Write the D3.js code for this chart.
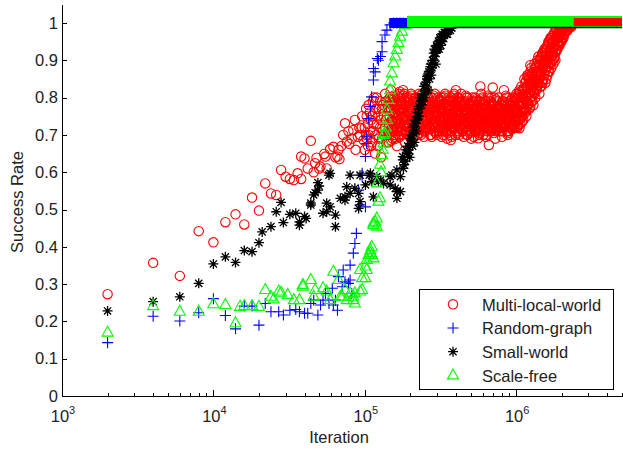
<!DOCTYPE html>
<html>
<head>
<meta charset="utf-8">
<script src="https://d3js.org/d3.v7.min.js"></script>
<style>
  body { margin: 0; background: #fff; }
  svg { display: block; font-family: "Liberation Sans", Arial, sans-serif; }
</style>
</head>
<body>
<div id="chart"></div>
<script>
// iterations are in thousands, success rate in 0..1
const multiLocalWorld = [
  [2,.273],[4,.357],[6,.322],[8,.442],[10,.412],[12,.466],[14,.487],[16,.46],[18,.532],[20,.497],
  [22,.57],[24,.543],[26,.539],[28,.606],[30,.588],[32,.582],[34,.579],[36,.597],[38,.582],[38,.642],
  [40,.637],[42,.61],[44,.684],[46,.6],[47,.624],[48,.639],[50,.61],[51,.615],[54,.649],[55,.642],
  [56,.61],[59,.662],[62,.668],[64,.64],[66,.642],[67,.66],[68,.635],[70,.67],[72,.7],[74,.731],
  [76,.682],[78,.71],[79,.676],[82,.69],[84,.713],[86,.74],[87,.66],[90,.695],[92,.72],[93,.7],
  [95,.718],[96,.75],[98,.686],
  [170,.816],[230,.722],[270,.7],[370,.686],[400,.82],[470,.7],[560,.691],[580,.83],[660,.673],
  [700,.827],[830,.82],[880,.7],[1050,.718],[1200,.86],[1240,.887]
];

// dense part of the multi-local-world run: several samples per pixel column
const multiLocalCloud = [
  [100,.72,.66],[103,.75,.69],[106,.70,.78],[110,.74,.67],[113,.71,.79],[117,.76,.65],
  [120,.73,.80],[124,.69,.77],[128,.74,.64],[132,.78,.71],[136,.72,.81],[140,.75,.68],
  [144,.73,.79,.68],[149,.77,.71,.82],[153,.74,.80,.69],[158,.76,.70,.79],[163,.72,.78,.67],
  [168,.75,.81,.70],[173,.79,.73,.76],[179,.71,.77,.82],[184,.74,.68,.79],[190,.76,.72,.80],
  [196,.73,.78,.70],[202,.77,.74,.81],[208,.72,.79,.69],[215,.75,.71,.80],[221,.78,.74,.70],
  [228,.73,.77,.81],[235,.76,.70,.79],[243,.74,.78,.72],[250,.71,.77,.80],[258,.75,.73,.82],
  [266,.78,.72,.76],[274,.74,.80,.70],[283,.77,.73,.79],[291,.72,.76,.81],[300,.75,.70,.78],
  [310,.74,.79,.71,.77],[319,.76,.72,.80],[329,.73,.78,.70,.75],[339,.77,.74,.81],
  [350,.72,.76,.69,.79],[361,.75,.78,.73],[372,.71,.77,.80,.74],[383,.76,.73,.79],
  [395,.74,.70,.78,.76],[408,.77,.73,.80],[420,.72,.75,.79,.70],[433,.76,.74,.81],
  [447,.73,.78,.71,.75],[461,.77,.72,.79],[475,.74,.76,.70,.80],[490,.75,.73,.78],
  [505,.72,.77,.74,.69],[520,.76,.79,.73],[537,.74,.71,.77,.80],[553,.75,.78,.72],
  [570,.73,.76,.70,.79],[588,.77,.74,.81],[606,.72,.75,.78,.70],[625,.76,.73,.79],
  [644,.74,.77,.71,.75],[664,.78,.72,.76],[685,.73,.75,.80,.71],[706,.76,.74,.78],
  [728,.72,.77,.74,.69],[750,.75,.79,.73],[773,.74,.71,.77,.76],[797,.78,.73,.75],
  [822,.72,.76,.79,.74],[847,.75,.73,.77],[874,.74,.78,.71,.76],[901,.77,.73,.79],
  [929,.75,.72,.78,.74],[957,.76,.79,.73],[987,.74,.77,.80,.72],
  [1018,.76,.72,.80],[1049,.78,.74,.82],[1082,.75,.79,.83],[1115,.77,.81,.74],
  [1150,.80,.76,.84],[1185,.78,.83,.86],[1222,.81,.77,.85],[1260,.79,.84,.88],
  [1299,.82,.86,.78],[1339,.84,.80,.88],[1380,.83,.87,.90],[1423,.85,.81,.89],
  [1467,.87,.83,.91],[1512,.85,.89,.92],[1559,.88,.84,.92],[1607,.90,.86,.94],
  [1657,.87,.92,.95],[1708,.91,.88,.96],[1761,.93,.89,.95],[1816,.92,.96,.90],
  [1872,.95,.93,.97],[1930,.94,.97,.98],[1989,.96,.98,.95],[2051,.97,.99,.96],
  [2114,.98,.99],[2180,.99,.98],[2247,1,.99],[2317,1,.99],[2388,1]
];

// samples that fall between the columns above
const multiLocalCloudMid = [
  [102,.70,.77],[105,.73,.67],[108,.76,.71],[112,.68,.75],[115,.73,.80],[119,.70,.77],
  [122,.75,.67],[126,.72,.79],[130,.77,.69],[134,.70,.75],[138,.74,.79],[142,.71,.77],
  [146,.75,.70,.80],[151,.72,.78,.74],[156,.77,.71,.80],[160,.73,.76,.69],[166,.78,.74,.71],
  [171,.72,.77,.80],[176,.75,.70,.78],[182,.77,.73,.81],[187,.71,.75,.78],[193,.74,.79,.72],
  [199,.76,.71,.80],[205,.73,.77,.75],[212,.79,.74,.71],[218,.72,.76,.80],[225,.75,.78,.70],
  [232,.77,.72,.79],[239,.73,.76,.81],[247,.76,.71,.78],[254,.74,.79,.72],[262,.77,.73,.80],
  [270,.72,.75,.78],[279,.76,.80,.73],[287,.74,.71,.77],[296,.78,.75,.72],
  [305,.76,.73,.80,.71],[315,.74,.78,.72],[324,.77,.71,.75,.79],[334,.72,.76,.80],
  [345,.75,.73,.78,.71],[356,.77,.74,.80],[367,.73,.78,.70,.76],[378,.75,.72,.79],
  [389,.77,.74,.81,.72],[402,.73,.76,.79],[414,.75,.71,.77,.80],[427,.74,.78,.72],
  [440,.76,.73,.79,.71],[454,.75,.78,.73],[468,.72,.76,.80,.74],[483,.77,.73,.75],
  [498,.74,.79,.71,.76],[513,.73,.77,.80],[529,.76,.72,.75,.78],[545,.74,.79,.71],
  [562,.77,.74,.76,.72],[579,.75,.71,.79],[597,.73,.77,.74,.80],[616,.76,.72,.78],
  [635,.75,.79,.73,.70],[654,.72,.76,.80],[675,.77,.74,.71,.79],[696,.74,.78,.72],
  [717,.76,.73,.80,.75],[739,.73,.77,.71],[762,.75,.80,.74,.72],[785,.77,.72,.76],
  [810,.74,.79,.73,.71],[835,.76,.72,.78],[861,.73,.77,.80,.75],[888,.75,.71,.74],
  [915,.78,.74,.76,.72],[943,.73,.77,.80],[972,.75,.72,.78,.76],[1003,.77,.74,.81],
  [1034,.74,.78,.81],[1066,.76,.80,.73],[1099,.79,.75,.82],[1133,.77,.82,.85],
  [1168,.79,.75,.83],[1204,.81,.85,.78],[1241,.80,.84,.87],[1280,.83,.79,.86],
  [1319,.85,.81,.89],[1360,.82,.86,.88],[1402,.84,.88,.91],[1445,.86,.83,.90],
  [1490,.88,.84,.92],[1536,.86,.90,.93],[1583,.89,.85,.93],[1632,.91,.87,.95],
  [1683,.89,.93,.96],[1735,.92,.90,.95],[1789,.94,.91,.97],[1844,.93,.96,.98],
  [1901,.95,.97,.94],[1960,.97,.95,.99],[2020,.98,.96],[2083,.99,.97],[2147,.98,1],
  [2214,.99,1],[2282,1,.99],[2353,1]
];

// a third pass of samples, offset in both iteration and rate
const multiLocalCloudFill = [
  [145,.705,.765,.795],[150,.735,.685,.785],[155,.755,.715,.805],[159,.725,.775,.695],
  [164,.745,.805,.715],[170,.765,.695,.735],[175,.715,.785,.755],[180,.745,.725,.805],
  [186,.775,.705,.745],[192,.725,.765,.795],[198,.755,.695,.775],[204,.735,.805,.715],
  [210,.765,.745,.695],[216,.715,.785,.755],[223,.745,.725,.795],[230,.775,.705,.735],
  [237,.725,.765,.805],[245,.755,.695,.785],[252,.735,.775,.715],[260,.765,.745,.805],
  [268,.715,.755,.785],[277,.745,.695,.775],[285,.775,.725,.805],[294,.735,.765,.705],
  [303,.755,.785,.725],[313,.715,.745,.795],[322,.765,.735,.695],[332,.745,.785,.715],
  [342,.725,.755,.805],[353,.775,.705,.745],[364,.735,.765,.795],[375,.755,.725,.695],
  [387,.715,.775,.805],[399,.745,.735,.785],[411,.765,.705,.755],[424,.725,.795,.745],
  [437,.755,.715,.775],[451,.735,.785,.695],[465,.765,.745,.805],[479,.715,.755,.735],
  [494,.745,.785,.705],[509,.775,.725,.755],[525,.735,.765,.695],[541,.755,.715,.795],
  [558,.725,.775,.745],[575,.765,.735,.705],[593,.745,.795,.725],[611,.715,.755,.785],
  [630,.775,.735,.695],[649,.735,.765,.805],[670,.755,.715,.745],[690,.725,.785,.765],
  [712,.765,.735,.705],[734,.745,.795,.715],[757,.715,.755,.775],[781,.775,.725,.745],
  [805,.735,.765,.695],[830,.755,.785,.725],[856,.725,.745,.805],[882,.765,.705,.755],
  [910,.745,.785,.735],[938,.715,.765,.795],[967,.755,.725,.775],[998,.735,.795,.745],
  [1029,.765,.725,.805],[1061,.745,.785,.815],[1094,.775,.805,.735],[1128,.765,.825,.795],
  [1163,.805,.765,.845],[1199,.785,.825,.855],[1237,.815,.775,.845],[1275,.835,.805,.865],
  [1315,.815,.855,.875],[1355,.845,.825,.885],[1398,.865,.835,.895],[1441,.855,.885,.905],
  [1486,.875,.845,.915],[1532,.895,.865,.925],[1579,.875,.915,.935],[1629,.905,.885,.945],
  [1680,.925,.895,.955],[1732,.915,.945,.965],[1786,.935,.905,.975],[1841,.955,.925,.985],
  [1898,.945,.975,.995],[1957,.965,.985],[2018,.975,.995],[2081,.985,.995],[2146,.995],
  [2212,.995],[2281,1]
];

const randomGraph = [
  [2,.143],[4,.214],[6,.201],[8,.223],[10,.261],[12,.216],[14,.18],[16,.241],[18,.241],[20,.19],
  [22,.248],[24,.226],[27,.226],[29,.217],[32,.23],[35,.232],[37,.226],[40,.222],[42,.222],[44,.248],
  [46,.257],[49,.217],[51,.244],[53,.257],[55,.275],[58,.248],[61,.289],[62,.244],[64,.257],[66,.23],
  [67,.32],[71,.293],[72,.338],[74,.306],[78,.302],[80,.351],[80,.311],[82,.275],[84,.383],[86,.409],
  [88,.436],[91,.552],[93,.512],[96,.592],[96,.597],[101,.507],[101,.642],[103,.677],[103,.695],
  [106,.744],[109,.776],[111,.802],[114,.847],[114,.878],[117,.869],[121,.905],[123,.9],[127,.91],
  [130,.923],[130,.95],[136,.968],[140,.981],[147,.995],[155,1],[163,1],[171,1],[179,1]
];

const smallWorld = [
  [2,.228],[4,.253],[6,.266],[8,.302],[10,.354],[12,.373],[14,.358],[16,.39],[18,.387],[20,.411],
  [21,.44],[24,.454],[26,.494],[28,.519],[29,.465],[32,.487],[35,.49],[37,.467],[37,.458],[40,.481],
  [41,.476],[44,.512],[44,.517],[46,.539],[47,.545],[49,.552],[49,.572],[50,.563],[53,.49],[56,.517],
  [56,.494],[58,.592],[59,.507],[59,.597],[64,.485],[64,.454],[69,.53],[74,.534],[74,.525],[76,.561],
  [80,.543],[80,.592],[86,.557],[91,.543],[91,.503],[93,.592],[93,.521],[101,.566],[107,.592],
  [109,.597],[111,.575],[114,.534],[120,.588],[123,.575],[127,.579],[133,.57],[147,.566],[147,.588],
  [151,.592],[159,.557],[163,.548],[163,.53],[163,.606],[172,.548],[172,.588],[178,.633],[178,.642],
  [180,.61],[182,.62],[185,.63],[187,.66],[189,.651],[192,.67],[194,.65],[195,.66],[198,.64],
  [200,.677],[200,.69],[203,.69],[205,.7],[207,.67],[208,.72],[210,.704],[212,.73],[213,.68],
  [216,.74],[218,.73],[219,.71],[221,.74],[223,.76],[225,.75],[227,.776],[228,.75],[230,.77],
  [233,.8],[235,.79],[237,.78],[239,.802],[242,.79],[244,.81],[246,.83],[248,.8],[251,.834],
  [253,.82],[255,.84],[257,.85],[258,.856],[260,.86],[262,.82],[265,.87],[268,.85],[271,.883],
  [271,.874],[273,.89],[275,.86],[278,.88],[280,.9],[283,.9],[285,.919],[288,.93],[290,.91],
  [293,.92],[295,.89],[298,.94],[300,.936],[300,.928],[303,.93],[305,.945],[308,.95],[310,.93],
  [313,.96],[315,.954],[318,.94],[321,.963],[324,.97],[326,.95],[329,.96],[331,.968],[335,.975],
  [340,.975],[345,.97],[348,.981],[352,.97],[355,.98],[360,.985],[365,.99],[368,.98],[375,.986]
];

const scaleFree = [
  [2,.17],[4,.241],[6,.226],[8,.226],[10,.246],[12,.244],[14,.195],[15,.239],[16,.241],[18,.241],
  [20,.239],[22,.284],[24,.266],[25,.259],[27,.28],[28,.277],[31,.271],[34,.257],[37,.257],[39,.293],
  [39,.298],[44,.311],[46,.266],[47,.284],[53,.289],[56,.28],[59,.257],[62,.333],[67,.311],[69,.266],
  [71,.266],[74,.284],[76,.257],[80,.275],[84,.266],[84,.257],[86,.248],[86,.275],[93,.28],[93,.338],
  [96,.284],[96,.316],[101,.316],[101,.347],[103,.338],[103,.365],[106,.378],[109,.383],[109,.391],
  [111,.378],[111,.4],[114,.369],[114,.458],[114,.463],[117,.467],[120,.454],[120,.476],[120,.57],
  [123,.521],[126,.53],[126,.62],[128,.6],[130,.646],[131,.66],[133,.677],[133,.7],[136,.704],
  [137,.72],[140,.74],[140,.767],[143,.794],[147,.82],[147,.843],[151,.865],[155,.892],[159,.91],
  [163,.928],[167,.946],[171,.963],[176,.977],[185,.995],[194,1]
];

const seriesNames = ["Multi-local-world", "Random-graph", "Small-world", "Scale-free"];
// once a run converges its markers stack into a solid band up to the last iteration
const plateauFrom = [2400, 145, 380, 190];
const plateauRate = [1, 1, 0.988, 1];
const lastIteration = 5000;

const yTicks = [0, 0.1, 0.2, 0.3, 0.4, 0.5, 0.6, 0.7, 0.8, 0.9, 1];
const yTickLabels = ["0", "0.1", "0.2", "0.3", "0.4", "0.5", "0.6", "0.7", "0.8", "0.9", "1"];
const xDecades = [1e3, 1e4, 1e5, 1e6];
const xExponents = ["3", "4", "5", "6"];

const width = 623, height = 452;
const colors = ["#ff0000", "#0000ff", "#000000", "#00ff00"];
const shapes = ["circle", "plus", "star", "triangle"];
const markerPath = {
  plus: "M-5.5,0H5.5M0,-5.5V5.5",
  star: "M-5,0H5M0,-5V5M-3.6,-3.6L3.6,3.6M-3.6,3.6L3.6,-3.6M-1.2,-1.2h2.4v2.4h-2.4Z",
  triangle: "M0,-6.5L5.5,3.5L-5.5,3.5Z"
};

const svg = d3.select("#chart").append("svg")
  .attr("width", width)
  .attr("height", height);

const x = d3.scaleLog().domain([1e3, 5e6]).range([62, 622]);
const y = d3.scaleLinear().domain([0, 1.05]).range([396, 4.35]);

function drawMarker(sel, shape, color) {
  if (shape === "circle") {
    sel.append("circle").attr("r", 4.7)
      .attr("fill", "none").attr("stroke", color).attr("stroke-width", 1.1);
  } else {
    sel.append("path").attr("d", markerPath[shape])
      .attr("fill", "none").attr("stroke", color)
      .attr("stroke-width", shape === "star" ? 1.3 : 1.1);
  }
}

const toPoints = rows => rows.flatMap(([k, ...rates]) => rates.map(r => [k, r]));
const cloudPoints = toPoints(multiLocalCloud)
  .concat(toPoints(multiLocalCloudMid), toPoints(multiLocalCloudFill));
const seriesData = [multiLocalWorld.concat(cloudPoints), randomGraph, smallWorld, scaleFree];

// scatter markers
seriesData.forEach((data, i) => {
  svg.append("g")
    .selectAll("g")
    .data(data)
    .enter()
    .append("g")
    .attr("transform", d => `translate(${x(d[0] * 1000)},${y(d[1])})`)
    .each(function() { drawMarker(d3.select(this), shapes[i], colors[i]); });
});

// converged bands at the top
const plateauWidth = [8, 10, 1.5, 11];
const plateauShift = [-1, 0, 0, -1.5];
const line = d3.line().x(d => x(d[0] * 1000)).y(d => y(d[1]));
[1, 3, 2, 0].forEach(i => {
  svg.append("path")
    .datum([[plateauFrom[i], plateauRate[i]], [lastIteration, plateauRate[i]]])
    .attr("d", line)
    .attr("transform", `translate(0,${plateauShift[i]})`)
    .attr("fill", "none")
    .attr("stroke", colors[i])
    .attr("stroke-width", plateauWidth[i]);
});

// axes
const yAxis = svg.append("g")
  .attr("transform", "translate(62,0)")
  .call(d3.axisLeft(y).tickValues(yTicks).tickSizeInner(-5).tickSizeOuter(0)
    .tickPadding(4).tickFormat((d, i) => yTickLabels[i]));

const xMinor = x.ticks().filter(t => !xDecades.includes(t));
svg.append("g")
  .attr("transform", "translate(0,396)")
  .call(d3.axisBottom(x).tickValues(xMinor).tickSizeInner(-3.5).tickSizeOuter(0).tickFormat(""))
  .call(g => g.select(".domain").remove());

svg.append("g")
  .attr("transform", "translate(0,396)")
  .call(d3.axisBottom(x).tickValues(xDecades).tickSizeInner(-6).tickSizeOuter(0).tickFormat(""));

svg.selectAll(".domain, .tick line")
  .attr("stroke", "#000")
  .attr("shape-rendering", "crispEdges");

yAxis.attr("font-family", null).attr("font-size", null);
yAxis.selectAll("text")
  .style("font-size", "16.5px")
  .attr("fill", "#222");

const decadeLabels = svg.append("g");
xDecades.forEach((d, i) => {
  const t = decadeLabels.append("text")
    .attr("x", x(d) + 1)
    .attr("y", 422)
    .attr("text-anchor", "middle")
    .attr("fill", "#222")
    .style("font-size", "16.5px");
  t.append("tspan").text("10");
  t.append("tspan").attr("dy", -8).style("font-size", "11px").text(xExponents[i]);
});

svg.append("text")
  .attr("x", 339)
  .attr("y", 443)
  .attr("text-anchor", "middle")
  .attr("fill", "#222")
  .style("font-size", "16.5px")
  .text("Iteration");

svg.append("text")
  .attr("transform", "translate(23,202) rotate(-90)")
  .attr("text-anchor", "middle")
  .attr("fill", "#222")
  .style("font-size", "16.5px")
  .text("Success Rate");

// legend
const legend = svg.append("g");
legend.append("rect")
  .attr("x", 419.5).attr("y", 289.5)
  .attr("width", 194).attr("height", 100)
  .attr("fill", "#fff").attr("stroke", "#000")
  .attr("shape-rendering", "crispEdges");

seriesNames.forEach((name, i) => {
  const cy = 304.3 + i * 23.7;
  const m = legend.append("g").attr("transform", `translate(453,${cy})`);
  drawMarker(m, shapes[i], colors[i]);
  legend.append("text")
    .attr("x", 482)
    .attr("y", cy + 6.4)
    .attr("fill", "#222")
    .style("font-size", "16.5px")
    .text(name);
});
</script>
</body>
</html>
